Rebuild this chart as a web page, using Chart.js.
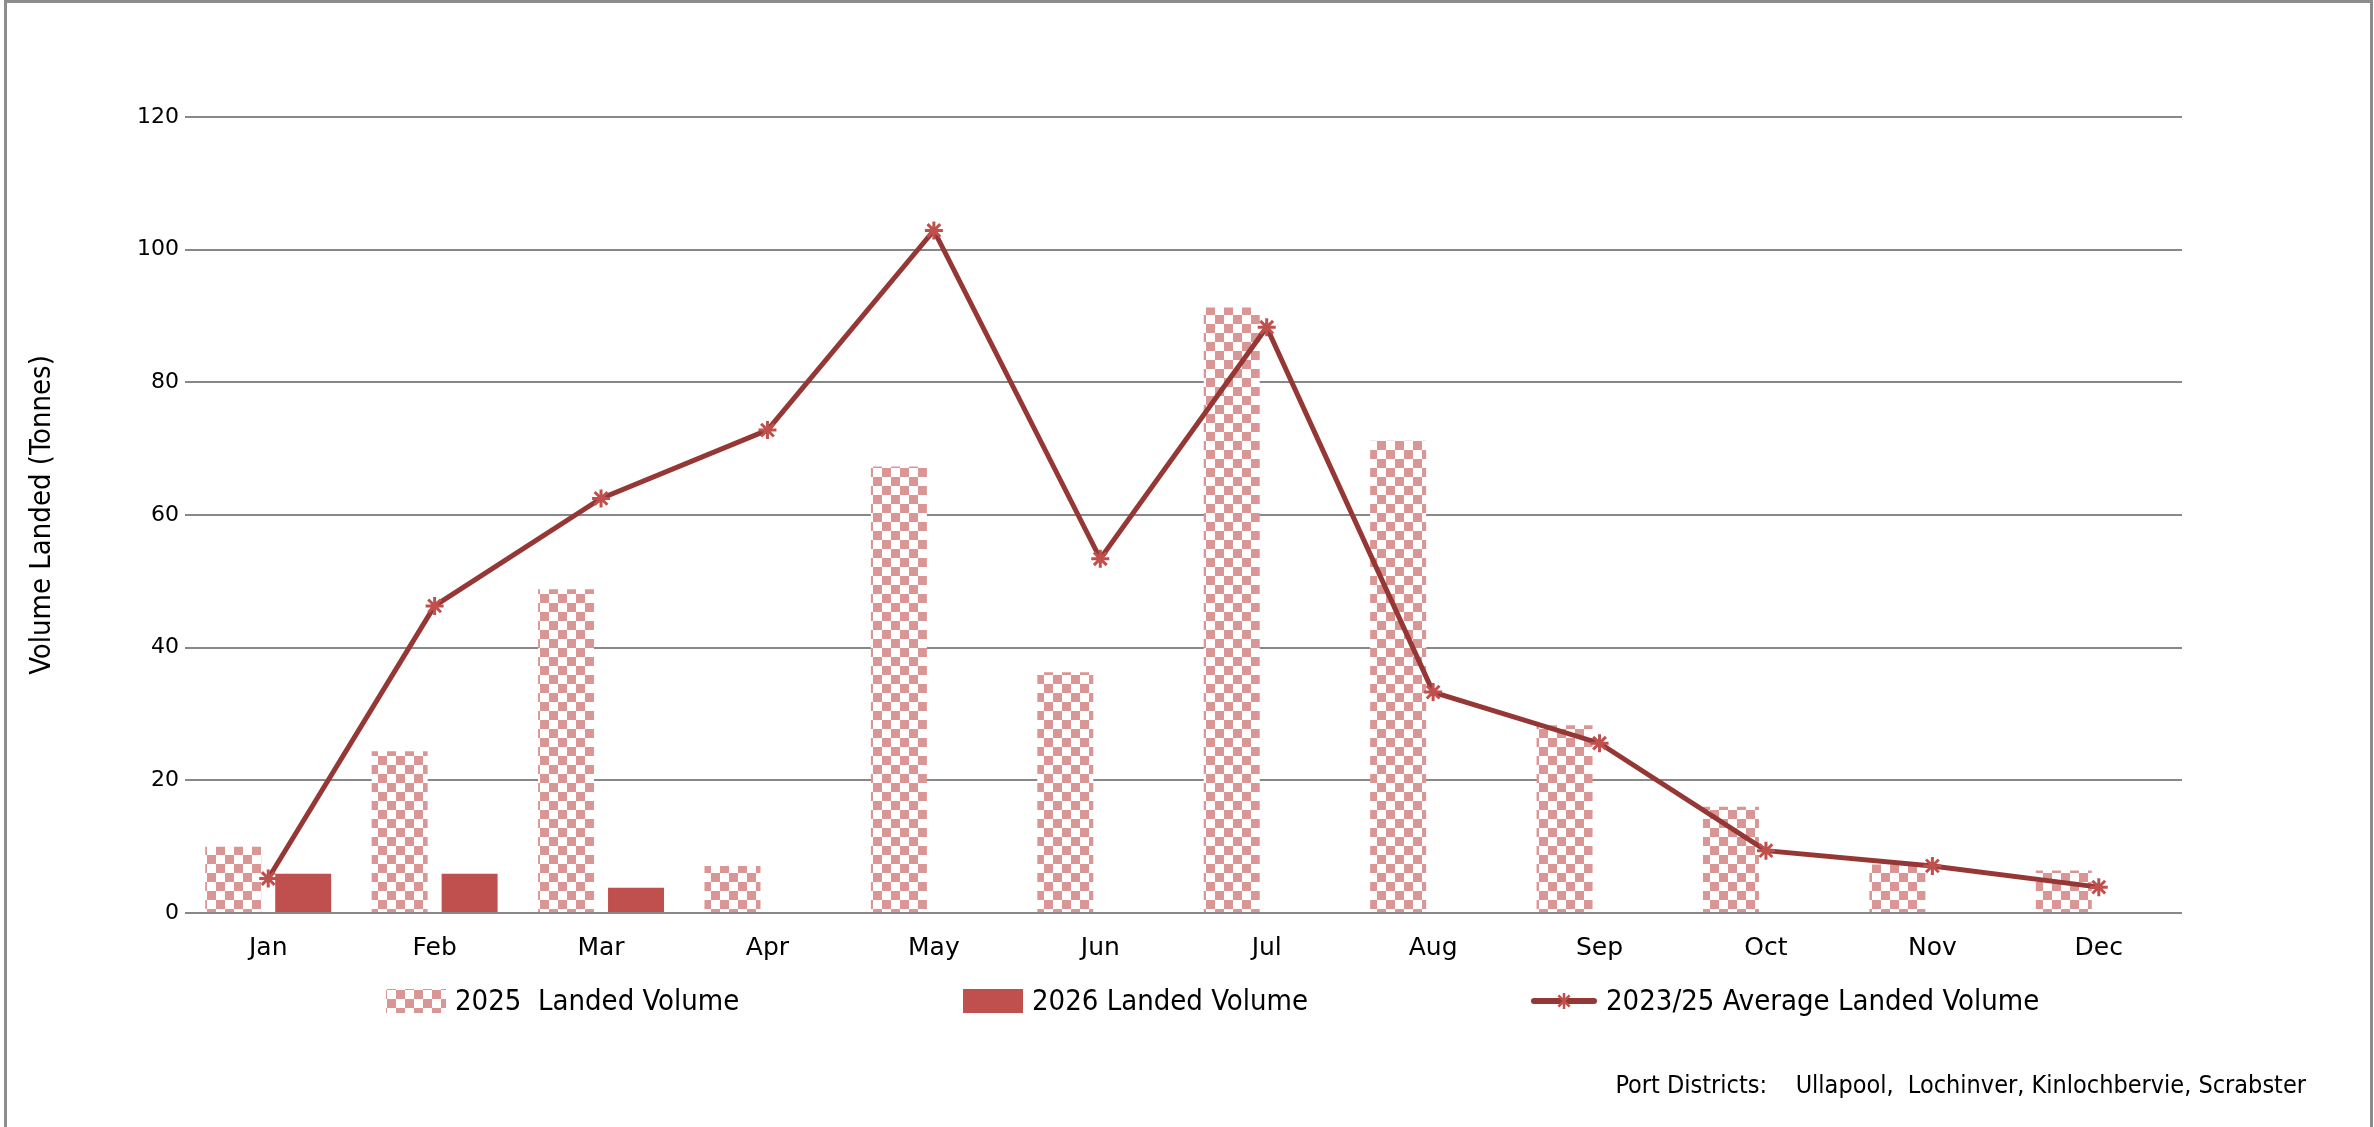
<!DOCTYPE html>
<html>
<head>
<meta charset="utf-8">
<script src="https://cdn.jsdelivr.net/npm/chart.js@4.4.1/dist/chart.umd.min.js"></script>
<style>
  html, body { margin: 0; padding: 0; background: #ffffff; }
  #wrap { position: relative; width: 2374px; height: 1127px; }
  canvas { display: block; }
</style>
</head>
<body>
<div id="wrap"><canvas id="c" width="2374" height="1127"></canvas></div>
<script>
const months = ["Jan", "Feb", "Mar", "Apr", "May", "Jun", "Jul", "Aug", "Sep", "Oct", "Nov", "Dec"];
const landed2025 = [10.0, 24.4, 48.8, 7.1, 67.3, 36.3, 91.3, 71.2, 28.3, 16.0, 7.3, 6.4];
const landed2026 = [5.9, 5.9, 3.8, null, null, null, null, null, null, null, null, null];
const avg2325 = [5.2, 46.3, 62.5, 72.8, 102.9, 53.4, 88.3, 33.3, 25.6, 9.4, 7.1, 3.9];
const yTicks = [0, 20, 40, 60, 80, 100, 120];
const seriesNames = ["2025  Landed Volume", "2026 Landed Volume", "2023/25 Average Landed Volume"];
const yTitle = "Volume Landed (Tonnes)";
const footnote = "Port Districts:    Ullapool,  Lochinver, Kinlochbervie, Scrabster";

const NARROW = '"Liberation Sans Narrow", "DejaVu Sans Condensed", "Arial Narrow", sans-serif';
const WIDE = '"DejaVu Sans", Verdana, sans-serif';

function makeChecker(cell, color) {
  const t = document.createElement('canvas');
  t.width = cell * 2; t.height = cell * 2;
  const g = t.getContext('2d');
  g.fillStyle = '#ffffff';
  g.fillRect(0, 0, cell * 2, cell * 2);
  g.fillStyle = color;
  g.fillRect(0, 0, cell, cell);
  g.fillRect(cell, cell, cell, cell);
  return g.createPattern(t, 'repeat');
}
const checker = makeChecker(9, '#DA9694');

const framePlugin = {
  id: 'frame',
  beforeDraw(chart) {
    const ctx = chart.ctx;
    ctx.save();
    ctx.fillStyle = '#ffffff';
    ctx.fillRect(0, 0, chart.width, chart.height);
    ctx.strokeStyle = '#8c8c8c';
    ctx.lineWidth = 3;
    ctx.beginPath();
    ctx.moveTo(5.5, chart.height + 5);
    ctx.lineTo(5.5, 1.5);
    ctx.lineTo(2371.5, 1.5);
    ctx.lineTo(2371.5, chart.height + 5);
    ctx.stroke();
    ctx.restore();
  }
};

const legendPlugin = {
  id: 'customLegend',
  afterDraw(chart) {
    const ctx = chart.ctx;
    const ds = chart.data.datasets;
    const starts = [386, 963, 1532];
    ctx.save();
    ctx.font = '29px ' + NARROW;
    ctx.textBaseline = 'middle';
    ctx.textAlign = 'left';
    const boxW = 60, gapText = 9;
    const y = 1001;
    [0, 1, 2].forEach((i, k) => {
      const d = ds[i];
      const x = starts[k];
      if (d.type === 'line') {
        ctx.strokeStyle = d.borderColor;
        ctx.lineWidth = 6;
        ctx.lineCap = 'round';
        ctx.beginPath();
        ctx.moveTo(x + 2, y);
        ctx.lineTo(x + boxW + 2, y);
        ctx.stroke();
        ctx.strokeStyle = d.pointBorderColor;
        ctx.lineWidth = 2.5;
        ctx.lineCap = 'butt';
        const r = 8, cx = x + boxW / 2 + 2;
        ctx.beginPath();
        ctx.moveTo(cx - r * 0.7, y - r * 0.7); ctx.lineTo(cx + r * 0.7, y + r * 0.7);
        ctx.moveTo(cx + r * 0.7, y - r * 0.7); ctx.lineTo(cx - r * 0.7, y + r * 0.7);
        ctx.moveTo(cx, y - r); ctx.lineTo(cx, y + r);
        ctx.stroke();
        ctx.fillStyle = '#000000';
        ctx.fillText(d.label, x + boxW + 14, y + 1);
      } else {
        ctx.fillStyle = d.backgroundColor;
        ctx.fillRect(x, y - 12, boxW, 24);
        ctx.fillStyle = '#000000';
        ctx.fillText(d.label, x + boxW + gapText, y + 1);
      }
    });
    ctx.font = '25px ' + NARROW;
    ctx.textAlign = 'right';
    ctx.fillText(footnote, 2306, 1086);
    ctx.restore();
  }
};

new Chart(document.getElementById('c'), {
  type: 'bar',
  data: {
    labels: months,
    datasets: [
      {
        label: seriesNames[0],
        data: landed2025,
        backgroundColor: checker,
        borderWidth: 0,
        categoryPercentage: 0.841,
        barPercentage: 0.8,
        order: 1
      },
      {
        label: seriesNames[1],
        data: landed2026,
        backgroundColor: '#C0504D',
        borderWidth: 0,
        categoryPercentage: 0.841,
        barPercentage: 0.8,
        order: 1
      },
      {
        type: 'line',
        label: seriesNames[2],
        data: avg2325,
        borderColor: '#953735',
        borderWidth: 5,
        tension: 0,
        fill: false,
        pointStyle: 'star',
        pointRadius: 9,
        pointBorderWidth: 3,
        pointBorderColor: '#C0504D',
        pointBackgroundColor: '#C0504D',
        order: 0
      }
    ]
  },
  options: {
    responsive: false,
    animation: false,
    devicePixelRatio: 1,
    layout: { padding: { left: 0, right: 192, top: 117, bottom: 0 } },
    plugins: {
      legend: { display: false },
      tooltip: { enabled: false },
      title: { display: false }
    },
    scales: {
      x: {
        grid: { display: false, drawTicks: false },
        border: { display: false },
        ticks: { color: '#000000', font: { family: WIDE, size: 25 }, padding: 20 },
        afterFit(s) { s.height = 214; }
      },
      y: {
        min: 0,
        max: 120,
        afterBuildTicks(s) { s.ticks = yTicks.map(v => ({ value: v })); },
        grid: { color: '#888888', lineWidth: 2, drawTicks: false },
        border: { display: false },
        ticks: { color: '#000000', font: { family: WIDE, size: 22 }, padding: 6 },
        title: {
          display: true,
          text: yTitle,
          color: '#000000',
          font: { family: NARROW, size: 29, lineHeight: 1.2 },
          padding: { top: 25, bottom: 0 }
        },
        afterFit(s) { s.width = 185; }
      }
    }
  },
  plugins: [framePlugin, legendPlugin]
});
</script>
</body>
</html>
